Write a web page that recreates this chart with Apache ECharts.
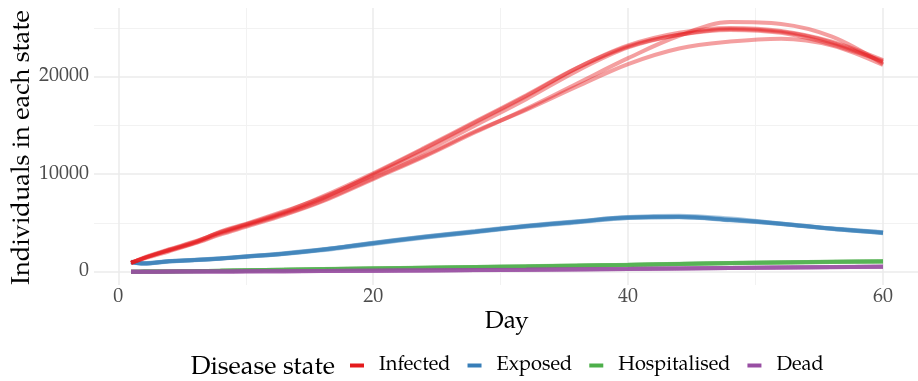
<!DOCTYPE html>
<html>
<head>
<meta charset="utf-8">
<script src="https://cdn.jsdelivr.net/npm/echarts@6/dist/echarts.min.js"></script>
<style>
html,body{margin:0;padding:0;background:#fff;}
#chart{width:918px;height:381px;}
</style>
</head>
<body>
<div id="chart"></div>
<script>
// ---- data ----
const days = [1, 2, 4, 6, 8, 10, 13, 16, 20, 24, 28, 32, 36, 40, 44, 48, 52, 56, 60];

const infectedRun1 = [900, 1400, 2200, 3000, 4100, 4900, 6200, 7600, 9900, 12300, 15000, 17700, 20600, 23000, 24300, 24900, 24600, 23500, 21500];
const infectedRun2 = [900, 1450, 2300, 3100, 4000, 4800, 6000, 7500, 10000, 12600, 15300, 18000, 20900, 23200, 24500, 25000, 24700, 23600, 21700];
const infectedRun3 = [900, 1350, 2100, 2900, 3800, 4600, 5800, 7200, 9500, 11800, 14300, 16700, 19300, 21900, 24200, 25600, 25400, 24100, 21300];
const infectedRun4 = [900, 1400, 2200, 2950, 3900, 4700, 5900, 7300, 9600, 11900, 14400, 16600, 19000, 21300, 22900, 23600, 23900, 23200, 21200];
const infectedRun5 = [900, 1400, 2250, 3050, 4050, 4850, 6100, 7700, 10100, 12700, 15400, 18100, 20900, 23100, 24300, 24800, 24500, 23300, 21600];

const exposedRun1 = [1000, 850, 1080, 1200, 1350, 1550, 1850, 2250, 2920, 3550, 4100, 4650, 5100, 5550, 5600, 5300, 4900, 4400, 4000];
const exposedRun2 = [1050, 820, 1050, 1180, 1330, 1520, 1820, 2200, 2850, 3480, 4050, 4600, 5050, 5500, 5650, 5350, 4950, 4450, 4050];
const exposedRun3 = [1000, 880, 1100, 1230, 1380, 1580, 1900, 2300, 2980, 3600, 4180, 4720, 5180, 5600, 5750, 5450, 4950, 4400, 3950];
const exposedRun4 = [950, 860, 1060, 1210, 1360, 1560, 1870, 2270, 2900, 3520, 4080, 4680, 5120, 5520, 5580, 5280, 4880, 4380, 3980];
const exposedRun5 = [1000, 840, 1070, 1190, 1340, 1540, 1840, 2240, 2940, 3580, 4120, 4660, 5140, 5580, 5620, 5320, 4920, 4420, 4020];

const hospRun1 = [0, 10, 30, 60, 100, 140, 200, 260, 330, 400, 470, 540, 620, 700, 790, 880, 950, 1010, 1050];
const hospRun2 = [0, 12, 35, 65, 105, 150, 210, 270, 345, 415, 485, 560, 640, 720, 810, 900, 970, 1030, 1070];
const hospRun3 = [0, 8, 28, 55, 95, 135, 190, 250, 320, 390, 460, 530, 605, 690, 780, 865, 935, 995, 1035];
const hospRun4 = [0, 10, 32, 62, 100, 145, 205, 265, 335, 405, 475, 545, 625, 710, 800, 885, 955, 1015, 1060];
const hospRun5 = [0, 9, 29, 58, 98, 138, 195, 255, 325, 395, 465, 535, 615, 695, 785, 875, 945, 1005, 1045];

const deadRun1 = [0, 2, 8, 15, 25, 35, 50, 70, 100, 130, 165, 200, 240, 280, 330, 380, 430, 470, 510];
const deadRun2 = [0, 2, 9, 17, 27, 38, 55, 75, 105, 137, 172, 210, 250, 292, 342, 392, 440, 482, 525];
const deadRun3 = [0, 1, 7, 14, 23, 33, 47, 66, 95, 125, 158, 193, 232, 272, 320, 370, 420, 460, 498];
const deadRun4 = [0, 2, 8, 16, 26, 36, 52, 72, 102, 133, 168, 204, 245, 286, 336, 386, 435, 476, 516];
const deadRun5 = [0, 2, 8, 15, 24, 34, 49, 69, 98, 128, 162, 197, 236, 276, 326, 376, 425, 465, 505];

const stateNames = ['Infected', 'Exposed', 'Hospitalised', 'Dead'];
const stateColors = ['#E41A1C', '#377EB8', '#4DAF4A', '#984EA3'];

const xTickValues = [0, 20, 40, 60];
const xMinorValues = [10, 30, 50];
const yTickValues = [0, 10000, 20000];
const yMinorValues = [5000, 15000, 25000];

const xTitle = 'Day';
const yTitle = 'Individuals in each state';
const legendTitle = 'Disease state';

// ---- chart ----
const FONT = '"TeX Gyre Pagella", "Palatino Linotype", Palatino, "Liberation Serif", serif';
const runsByState = {
  Infected: [infectedRun1, infectedRun2, infectedRun3, infectedRun4, infectedRun5],
  Exposed: [exposedRun1, exposedRun2, exposedRun3, exposedRun4, exposedRun5],
  Hospitalised: [hospRun1, hospRun2, hospRun3, hospRun4, hospRun5],
  Dead: [deadRun1, deadRun2, deadRun3, deadRun4, deadRun5]
};
const drawOrder = ['Exposed', 'Hospitalised', 'Dead', 'Infected'];

const series = [];
drawOrder.forEach(function (name) {
  const color = stateColors[stateNames.indexOf(name)];
  runsByState[name].forEach(function (run) {
    series.push({
      type: 'line',
      name: name,
      data: days.map(function (d, i) { return [d, run[i]]; }),
      showSymbol: false,
      symbol: 'none',
      smooth: 0.35,
      silent: true,
      lineStyle: { width: 4, color: color, opacity: 0.42, cap: 'butt' },
      itemStyle: { color: color },
      emphasis: { disabled: true }
    });
  });
});

const X_MIN = -1.907, X_MAX = 62.746, Y_MIN = -1364, Y_MAX = 27046;
const plainNum = function (v) { return String(v); };

const chart = echarts.init(document.getElementById('chart'), null, { renderer: 'canvas' });
chart.setOption({
  animation: false,
  backgroundColor: '#ffffff',
  grid: { left: 94, right: 0, top: 8, bottom: 96, containLabel: false },
  xAxis: [
    {
      type: 'value', min: X_MIN, max: X_MAX,
      axisLine: { show: false },
      axisTick: { show: false, customValues: xTickValues },
      axisLabel: { customValues: xTickValues, formatter: plainNum, fontSize: 20, color: '#4d4d4d', fontFamily: FONT, margin: 3 },
      splitLine: { show: true, lineStyle: { color: '#ebebeb', width: 1.5 } }
    },
    {
      type: 'value', min: X_MIN, max: X_MAX, gridIndex: 0, position: 'bottom',
      axisLine: { show: false },
      axisTick: { show: false, customValues: xMinorValues },
      axisLabel: { show: false },
      splitLine: { show: true, lineStyle: { color: '#f2f2f2', width: 1 } }
    }
  ],
  yAxis: [
    {
      type: 'value', min: Y_MIN, max: Y_MAX,
      axisLine: { show: false },
      axisTick: { show: false, customValues: yTickValues },
      axisLabel: { customValues: yTickValues, formatter: plainNum, fontSize: 20, color: '#4d4d4d', fontFamily: FONT, margin: 5 },
      splitLine: { show: true, lineStyle: { color: '#ebebeb', width: 1.5 } }
    },
    {
      type: 'value', min: Y_MIN, max: Y_MAX, gridIndex: 0, position: 'left',
      axisLine: { show: false },
      axisTick: { show: false, customValues: yMinorValues },
      axisLabel: { show: false },
      splitLine: { show: true, lineStyle: { color: '#f2f2f2', width: 1 } }
    }
  ],
  legend: {
    left: 350, top: 355.5,
    padding: 0,
    itemGap: 17,
    itemWidth: 14, itemHeight: 4,
    icon: 'rect',
    selectedMode: false,
    textStyle: { fontSize: 20, color: '#000', fontFamily: FONT, padding: [0, 0, 0, 10] },
    data: stateNames.map(function (n, i) {
      return { name: n, icon: 'rect', itemStyle: { color: stateColors[i], opacity: 1 } };
    })
  },
  graphic: [
    {
      type: 'text', x: 23, y: 147.5, rotation: Math.PI / 2,
      style: { text: yTitle, font: '25.5px ' + FONT, fill: '#000', align: 'center', verticalAlign: 'middle' }
    },
    {
      type: 'text', x: 506.7, y: 322.5,
      style: { text: xTitle, font: '24.5px ' + FONT, fill: '#000', align: 'center', verticalAlign: 'middle' }
    },
    {
      type: 'text', x: 190.7, y: 368,
      style: { text: legendTitle, font: '25.5px ' + FONT, fill: '#000', align: 'left', verticalAlign: 'middle' }
    }
  ],
  series: series
});
</script>
</body>
</html>
